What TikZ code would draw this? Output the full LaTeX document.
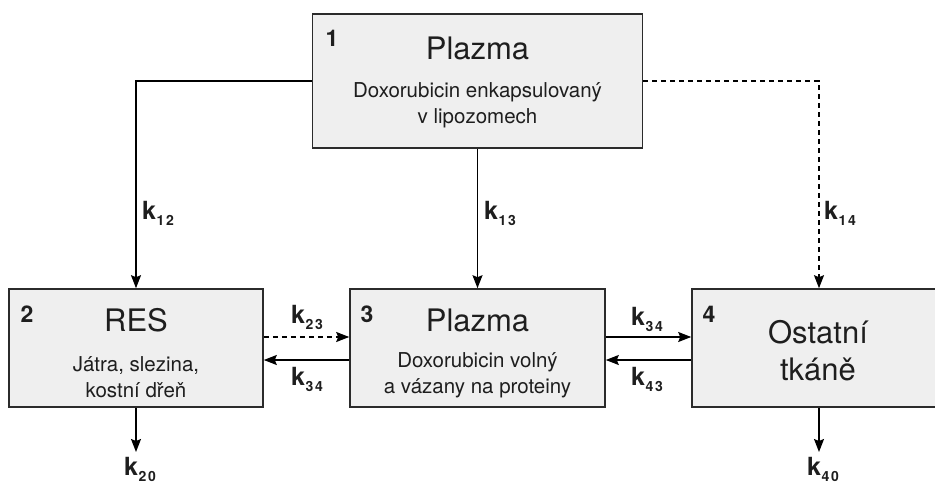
\documentclass[tikz,border=0pt]{standalone}
\usepackage{fontspec}
\setmainfont{TeX Gyre Heros}
\usetikzlibrary{arrows.meta}
\definecolor{boxfill}{HTML}{EFEFEF}
\definecolor{boxline}{HTML}{2B2B2B}
\definecolor{ink}{HTML}{1E1E1E}
\newcommand{\klab}[1]{\bfseries k\kern0.5pt\raisebox{-6pt}{\fontsize{14}{14}\selectfont\addfontfeature{LetterSpace=12}#1}}
\begin{document}
\begin{tikzpicture}[x=1pt,y=-1pt,
  compbox/.style={draw=boxline,line width=1.6pt,fill=boxfill,rectangle,inner sep=0pt},
  title/.style={text=ink,font=\fontsize{31}{34}\selectfont,inner sep=0pt},
  sub/.style={text=ink,font=\fontsize{20.5}{26}\selectfont,align=center,inner sep=0pt},
  num/.style={text=ink,font=\fontsize{23}{23}\selectfont\bfseries,inner sep=0pt},
  klabel/.style={text=ink,font=\fontsize{25}{25}\selectfont,anchor=base west,inner sep=0pt},
  flow/.style={draw=black,line width=1.3pt,-{Stealth[length=13pt,width=10pt,inset=2pt]}},
  dflow/.style={flow,dash pattern=on 5pt off 4pt}]
\path[use as bounding box] (0,0) rectangle (935,484);
\begin{scope}
\clip (0,0) rectangle (935,484);
% boxes
\node[compbox,minimum width=330pt,minimum height=134pt] (b1) at (477.5,81) {};
\node[compbox,minimum width=254pt,minimum height=118pt] (b2) at (136,348) {};
\node[compbox,minimum width=255pt,minimum height=118pt] (b3) at (477.5,348) {};
\node[compbox,minimum width=254pt,minimum height=118pt] (b4) at (819,348) {};
% box texts
\node[num] (n1) at (332,38) {1};
\node[title] (t1) at (477.5,48) {Plazma};
\node[sub] (s1) at (477.5,105) {Doxorubicin enkapsulovaný\\v lipozomech};
\node[num] (n2) at (27,314) {2};
\node[title] (t2) at (136,320) {RES};
\node[sub] (s2) at (136,377) {Játra, slezina,\\kostní dřeň};
\node[num] (n3) at (367,314) {3};
\node[title] (t3) at (477.5,320) {Plazma};
\node[sub] (s3) at (477.5,375) {Doxorubicin volný\\a vázany na proteiny};
\node[num] (n4) at (709,314) {4};
\node[title] (t4) at (818,332) {Ostatní};
\node[title] (t4b) at (818,369) {tkáně};
% connectors
\draw[flow] (b1.west) -| (b2.north);
\draw[flow] (b1.south) -- (b3.north);
\draw[dflow] (b1.east) -| (b4.north);
\draw[dflow] ([yshift=11pt]b2.east) -- ([yshift=11pt]b3.west);
\draw[flow] ([yshift=-12pt]b3.west) -- ([yshift=-12pt]b2.east);
\draw[flow] ([yshift=11pt]b3.east) -- ([yshift=11pt]b4.west);
\draw[flow] ([yshift=-12pt]b4.west) -- ([yshift=-12pt]b3.east);
\coordinate (e2) at (136,452);
\coordinate (e4) at (819,452);
\draw[flow] (b2.south) -- (e2);
\draw[flow] (b4.south) -- (e4);
% labels
\node[klabel] (k12) at (142,219) {\klab{12}};
\node[klabel] (k13) at (484,219) {\klab{13}};
\node[klabel] (k14) at (824,219) {\klab{14}};
\node[klabel] (k23) at (291,323) {\klab{23}};
\node[klabel] (k32) at (291,385) {\klab{34}};
\node[klabel] (k34) at (631,325) {\klab{34}};
\node[klabel] (k43) at (631,385) {\klab{43}};
\node[klabel] (k20) at (124,475) {\klab{20}};
\node[klabel] (k40) at (807,475) {\klab{40}};
\end{scope}
\end{tikzpicture}
\end{document}
